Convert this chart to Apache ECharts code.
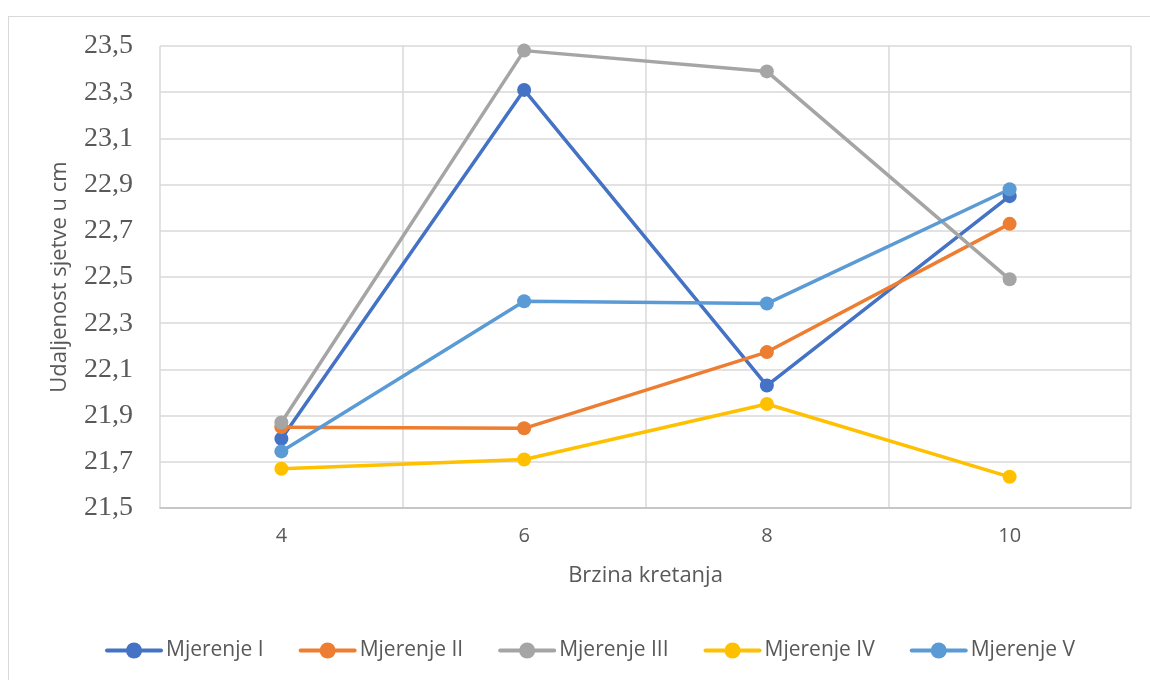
<!DOCTYPE html>
<html>
<head>
<meta charset="utf-8">
<script src="https://cdn.jsdelivr.net/npm/echarts@6/dist/echarts.min.js"></script>
<style>
html,body{margin:0;padding:0;background:#fff;}
#frame{position:absolute;left:8px;top:16px;width:1160px;height:700px;border:1.5px solid #D9D9D9;box-sizing:border-box;}
#chart{position:absolute;left:0;top:0;width:1150px;height:680px;}
</style>
</head>
<body>
<div id="frame"></div>
<div id="chart"></div>
<script>
const categories = ['4', '6', '8', '10'];
const seriesNames = ['Mjerenje I', 'Mjerenje II', 'Mjerenje III', 'Mjerenje IV', 'Mjerenje V'];
const mjerenjeI   = [21.80, 23.31, 22.03, 22.85];
const mjerenjeII  = [21.85, 21.845, 22.175, 22.73];
const mjerenjeIII = [21.87, 23.48, 23.39, 22.49];
const mjerenjeIV  = [21.67, 21.71, 21.95, 21.635];
const mjerenjeV   = [21.745, 22.395, 22.385, 22.88];
const colors = ['#4472C4', '#ED7D31', '#A5A5A5', '#FFC000', '#5B9BD5'];
const yMin = 21.5, yMax = 23.5, yStep = 0.2;
const xTitle = 'Brzina kretanja';
const yTitle = 'Udaljenost sjetve u cm';

const allData = [mjerenjeI, mjerenjeII, mjerenjeIII, mjerenjeIV, mjerenjeV];
const sans = 'Open Sans';
const chart = echarts.init(document.getElementById('chart'));
chart.setOption({
  animation: false,
  color: colors,
  grid: { left: 160, right: 19, top: 46, bottom: 172 },
  legend: {
    data: seriesNames,
    left: 100,
    top: 635,
    itemWidth: 54,
    itemHeight: 20,
    itemGap: 35,
    lineStyle: { width: 4 },
    textStyle: { fontFamily: sans, fontSize: 21, color: '#595959' }
  },
  xAxis: {
    type: 'category',
    data: categories,
    boundaryGap: true,
    name: xTitle,
    nameLocation: 'middle',
    nameGap: 57,
    nameTextStyle: { fontFamily: sans, fontSize: 22, color: '#595959' },
    axisLine: { lineStyle: { color: '#BFBFBF', width: 1.5 } },
    axisTick: { show: false },
    axisLabel: { fontFamily: sans, fontSize: 20, color: '#595959', margin: 18 },
    splitLine: { show: true, lineStyle: { color: '#D9D9D9', width: 1.5 } }
  },
  yAxis: {
    type: 'value',
    min: yMin,
    max: yMax,
    interval: yStep,
    name: yTitle,
    nameLocation: 'middle',
    nameRotate: 90,
    nameGap: 89,
    nameTextStyle: { fontFamily: sans, fontSize: 22, color: '#595959' },
    axisLine: { show: false },
    axisTick: { show: false },
    axisLabel: {
      fontFamily: 'Liberation Serif', fontSize: 28, color: '#595959', margin: 27,
      formatter: v => v.toFixed(1).replace('.', ',')
    },
    splitLine: { show: true, lineStyle: { color: '#D9D9D9', width: 1.5 } }
  },
  series: seriesNames.map((n, i) => ({
    name: n,
    type: 'line',
    data: allData[i],
    symbol: 'circle',
    symbolSize: 14,
    lineStyle: { width: 3.5, cap: 'round', join: 'round' },
    itemStyle: { color: colors[i] }
  }))
});
</script>
</body>
</html>
